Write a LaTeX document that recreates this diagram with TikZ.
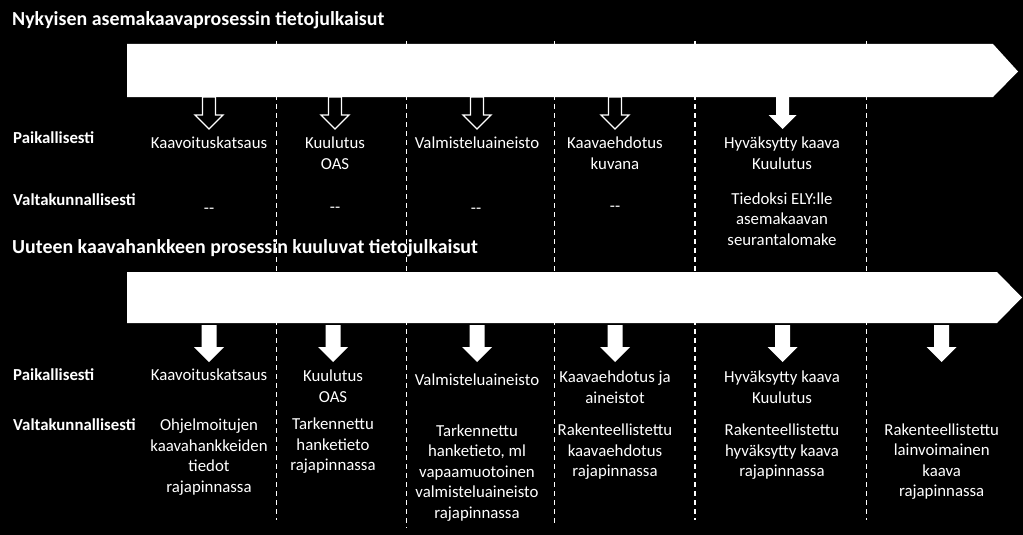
\documentclass[tikz,border=0pt]{standalone}
\usepackage{fontspec}
\setmainfont{Carlito}
\usetikzlibrary{positioning}

\tikzset{
    teksti/.style={text=white, align=center, inner sep=0pt, font=\fontsize{16.8}{20.5}\selectfont},
    rivi/.style={text=white, anchor=west, inner sep=0pt, font=\bfseries\fontsize{16.8}{20.5}\selectfont},
    otsikko/.style={text=white, anchor=west, inner sep=0pt, font=\bfseries\fontsize{19.9}{23}\selectfont},
    raja/.style={white, line width=1.2pt, dash pattern=on 5pt off 4pt},
    nuoli/.style={fill=white},
    tyhjanuoli/.style={draw=white, line width=1.3pt, fill=black},
    ylanuoli/.pic={\path[pic actions] (-6.5,0) -- (-6.5,18) -- (-14,18) -- (0,32) -- (14,18) -- (6.5,18) -- (6.5,0) -- cycle;},
    alanuoli/.pic={\path[pic actions] (-7.5,0) -- (-7.5,22) -- (-15,22) -- (0,37) -- (15,22) -- (7.5,22) -- (7.5,0) -- cycle;}
}

\begin{document}
\begin{tikzpicture}[x=1pt, y=-1pt]

    % Background
    \fill[black] (0,0) rectangle (1023,535);

    % Column borders
    \draw[raja] (276.7,41) -- (276.7,520);
    \draw[raja] (406.7,41) -- (406.7,528);
    \draw[raja] (554.3,41) -- (554.3,523);
    \draw[raja] (695,41) -- (695,520);
    \draw[raja] (866.7,41) -- (866.7,520);

    % Process arrows
    \fill[white] (127,44) -- (993,44) -- (1018,71.5) -- (993,97) -- (127,97) -- cycle;
    \fill[white] (127,272) -- (997,272) -- (1022,297.5) -- (997,323) -- (127,323) -- cycle;

    % Titles
    \node[otsikko] (nyky) at (12,20) {Nykyisen asemakaavaprosessin tietojulkaisut};
    \node[otsikko] (uusi) at (12,248) {Uuteen kaavahankkeen prosessin kuuluvat tietojulkaisut};

    % Current process
    \pic[tyhjanuoli] at (209,97) {ylanuoli};
    \pic[tyhjanuoli] at (335,97) {ylanuoli};
    \pic[tyhjanuoli] at (477,97) {ylanuoli};
    \pic[tyhjanuoli] at (615,97) {ylanuoli};
    \pic[nuoli] at (782.7,97) {ylanuoli};

    \node[rivi] (paik1) at (13,138) {Paikallisesti};
    \node[rivi] (valt1) at (13,200) {Valtakunnallisesti};

    \node[teksti] (kat1) at (209,143) {Kaavoituskatsaus};
    \node[teksti] (kuu1) at (335,153) {Kuulutus\\OAS};
    \node[teksti] (val1) at (477,143) {Valmisteluaineisto};
    \node[teksti] (ehd1) at (615,153) {Kaavaehdotus\\kuvana};
    \node[teksti] (hyv1) at (782,153) {Hyväksytty kaava\\Kuulutus};

    \node[teksti] (ei1) at (209,211) {-{}-};
    \node[teksti] (ei2) at (335,210) {-{}-};
    \node[teksti] (ei3) at (476,211) {-{}-};
    \node[teksti] (ei4) at (615,209) {-{}-};
    \node[teksti] (ely1) at (782,219) {Tiedoksi ELY:lle\\asemakaavan\\seurantalomake};

    % New process
    \pic[nuoli] at (209,325) {alanuoli};
    \pic[nuoli] at (333,325) {alanuoli};
    \pic[nuoli] at (477,325) {alanuoli};
    \pic[nuoli] at (615,325) {alanuoli};
    \pic[nuoli] at (782.7,325) {alanuoli};
    \pic[nuoli] at (941.7,325) {alanuoli};

    \node[rivi] (paik2) at (13,375) {Paikallisesti};
    \node[rivi] (valt2) at (13,425) {Valtakunnallisesti};

    \node[teksti] (kat2) at (209,375) {Kaavoituskatsaus};
    \node[teksti] (kuu2) at (333,386) {Kuulutus\\OAS};
    \node[teksti] (val2) at (477,380) {Valmisteluaineisto};
    \node[teksti] (ehd2) at (615,387) {Kaavaehdotus ja\\aineistot};
    \node[teksti] (hyv2) at (782,387) {Hyväksytty kaava\\Kuulutus};

    \node[teksti] (ohj2) at (209,457) {Ohjelmoitujen\\kaavahankkeiden\\tiedot\\rajapinnassa};
    \node[teksti] (tar2) at (333,446) {Tarkennettu\\hanketieto\\rajapinnassa};
    \node[teksti] (tar3) at (477,473) {Tarkennettu\\hanketieto, ml\\vapaamuotoinen\\valmisteluaineisto\\rajapinnassa};
    \node[teksti] (rak4) at (615,452) {Rakenteellistettu\\kaavaehdotus\\rajapinnassa};
    \node[teksti] (rak5) at (782,452) {Rakenteellistettu\\hyväksytty kaava\\rajapinnassa};
    \node[teksti] (rak6) at (941.7,461.5) {Rakenteellistettu\\lainvoimainen\\kaava\\rajapinnassa};

\end{tikzpicture}
\end{document}
